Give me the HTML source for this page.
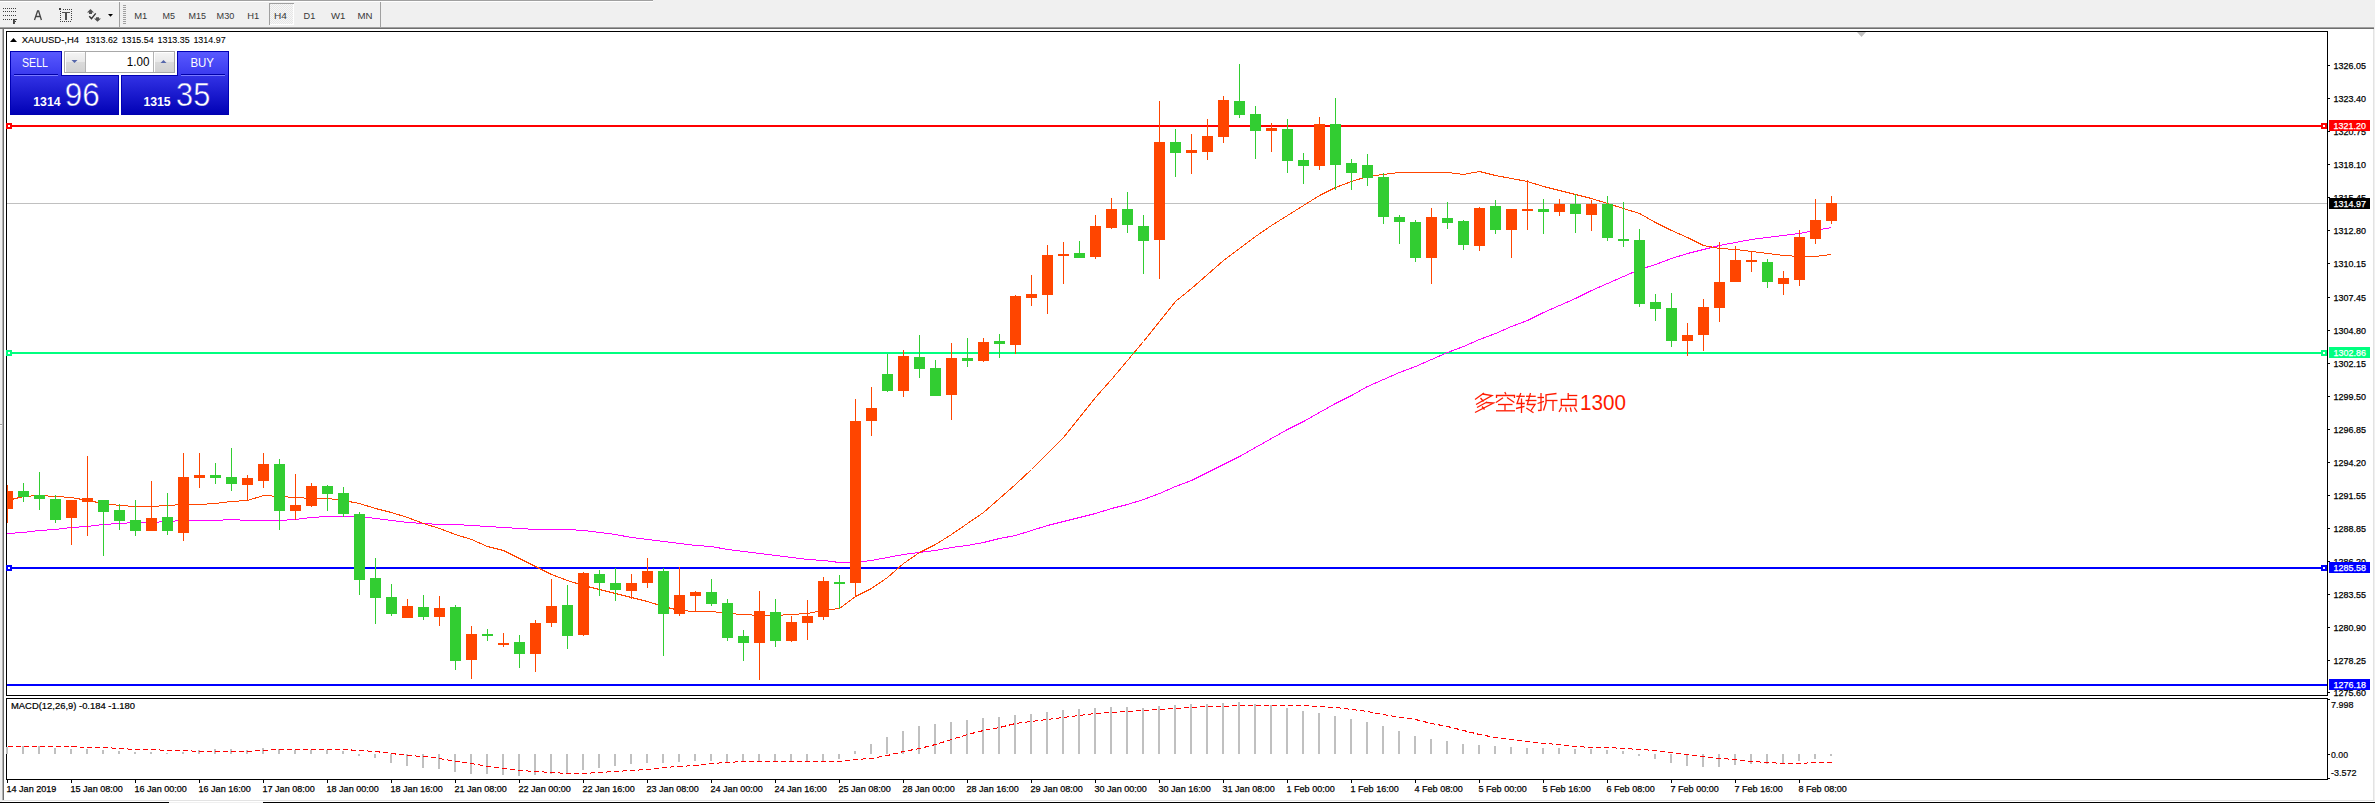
<!DOCTYPE html>
<html><head><meta charset="utf-8"><title>XAUUSD H4</title>
<style>
html,body{margin:0;padding:0;width:2375px;height:803px;overflow:hidden;background:#f0f0f0;}
body{position:relative;font-family:"Liberation Sans",sans-serif;}
text{font-family:"Liberation Sans",sans-serif;}
</style></head><body>
<svg width="2375" height="803" viewBox="0 0 2375 803" style="position:absolute;left:0;top:0;display:block" font-family="Liberation Sans, sans-serif">
<defs>
<linearGradient id="gSellTop" x1="0" y1="0" x2="0" y2="1"><stop offset="0" stop-color="#5a5aff"/><stop offset="1" stop-color="#3a3aee"/></linearGradient>
<linearGradient id="gBig" x1="0" y1="0" x2="0" y2="1"><stop offset="0" stop-color="#3333e6"/><stop offset="1" stop-color="#0000b4"/></linearGradient>
<linearGradient id="gBtn" x1="0" y1="0" x2="0" y2="1"><stop offset="0" stop-color="#f4f4f4"/><stop offset="0.45" stop-color="#e9e9e9"/><stop offset="0.5" stop-color="#dadada"/><stop offset="1" stop-color="#d2d2d2"/></linearGradient>
<pattern id="chk" width="2" height="2" patternUnits="userSpaceOnUse"><rect width="2" height="2" fill="#f7f7f7"/><rect width="1" height="1" fill="#e6e6e6"/><rect x="1" y="1" width="1" height="1" fill="#e6e6e6"/></pattern>
<linearGradient id="gBigU" gradientUnits="userSpaceOnUse" x1="0" y1="75" x2="0" y2="115"><stop offset="0" stop-color="#3333e6"/><stop offset="1" stop-color="#0000b4"/></linearGradient>
</defs>
<g shape-rendering="crispEdges">
<rect x="0" y="0" width="2375" height="803" fill="#f0f0f0"/>
<rect x="0" y="0" width="653" height="1" fill="#a0a0a0"/>
<rect x="0" y="1" width="653" height="1" fill="#ffffff"/>
<rect x="0" y="27" width="2374" height="1" fill="#a0a0a0"/>
<rect x="0" y="28" width="2374" height="1" fill="#6e6e6e"/>
<rect x="4" y="29" width="2369" height="771" fill="#ffffff"/>
<rect x="2" y="29" width="1" height="771" fill="#b4b4b4"/>
<rect x="0" y="424" width="2" height="1" fill="#a0a0a0"/>
<rect x="0" y="425" width="2" height="1" fill="#ffffff"/>
<rect x="3" y="29" width="1" height="771" fill="#6e6e6e"/>
<rect x="2373" y="29" width="1" height="772" fill="#e3e3e3"/>
<rect x="2" y="800" width="2372" height="1" fill="#e3e3e3"/>
<rect x="2" y="801" width="2372" height="1" fill="#ffffff"/>
<rect x="0" y="802" width="169" height="1" fill="#000000"/>
<rect x="263" y="802" width="2112" height="1" fill="#000000"/>
<rect x="6" y="31" width="2322" height="1" fill="#000"/>
<rect x="6" y="31" width="1" height="665" fill="#000"/>
<rect x="2327" y="31" width="1" height="665" fill="#000"/>
<rect x="6" y="695" width="2322" height="1" fill="#000"/>
<rect x="6" y="698" width="2322" height="1" fill="#000"/>
<rect x="6" y="698" width="1" height="82" fill="#000"/>
<rect x="2327" y="698" width="1" height="82" fill="#000"/>
<rect x="6" y="779" width="2322" height="1" fill="#000"/>
<polygon points="1857,32 1866,32 1861.5,37" fill="#c0c0c0" shape-rendering="auto"/>
</g>
<g shape-rendering="crispEdges">
<rect x="7" y="203" width="2320" height="1" fill="#c0c0c0"/>
<rect x="7" y="125" width="2320" height="2" fill="#ff0000"/>
<rect x="6" y="123" width="6" height="6" fill="#ff0000"/>
<rect x="8" y="125" width="2" height="2" fill="#fff"/>
<rect x="2321" y="123" width="6" height="6" fill="#ff0000"/>
<rect x="2323" y="125" width="2" height="2" fill="#fff"/>
<rect x="7" y="352" width="2320" height="2" fill="#00ff7f"/>
<rect x="6" y="350" width="6" height="6" fill="#00ff7f"/>
<rect x="8" y="352" width="2" height="2" fill="#fff"/>
<rect x="2321" y="350" width="6" height="6" fill="#00ff7f"/>
<rect x="2323" y="352" width="2" height="2" fill="#fff"/>
<rect x="7" y="567" width="2320" height="2" fill="#0000ff"/>
<rect x="6" y="565" width="6" height="6" fill="#0000ff"/>
<rect x="8" y="567" width="2" height="2" fill="#fff"/>
<rect x="2321" y="565" width="6" height="6" fill="#0000ff"/>
<rect x="2323" y="567" width="2" height="2" fill="#fff"/>
<rect x="7" y="684" width="2320" height="2" fill="#0000ff"/>
</g>
<polyline points="7.5,533.5 23.5,532.5 39.5,530.5 55.5,529.5 71.5,527.5 87.5,526.5 103.5,524.5 119.5,523.5 135.5,522.5 151.5,522.5 167.5,521.5 183.5,520.5 199.5,520.5 215.5,520.5 231.5,519.5 247.5,520.5 263.5,520.5 279.5,520.5 295.5,519.5 311.5,517.5 327.5,516.5 343.5,516.5 359.5,516.5 375.5,518.5 391.5,520.5 407.5,522.5 423.5,523.5 439.5,524.5 455.5,524.5 471.5,525.5 487.5,526.5 503.5,527.5 519.5,528.5 535.5,529.5 551.5,529.5 567.5,529.5 583.5,530.5 599.5,532.5 615.5,534.5 631.5,537.5 647.5,539.5 663.5,541.5 679.5,543.5 695.5,545.5 711.5,546.5 727.5,549.5 743.5,551.5 759.5,553.5 775.5,555.5 791.5,557.5 807.5,559.5 823.5,560.5 839.5,562.5 855.5,562.5 871.5,560.5 887.5,557.5 903.5,554.5 919.5,552.5 935.5,550.5 951.5,547.5 967.5,545.5 983.5,542.5 999.5,538.5 1015.5,535.5 1031.5,530.5 1047.5,525.5 1063.5,521.5 1079.5,517.5 1095.5,513.5 1111.5,508.5 1127.5,504.5 1143.5,499.5 1159.5,493.5 1175.5,486.5 1191.5,480.5 1207.5,472.5 1223.5,464.5 1239.5,456.5 1255.5,447.5 1271.5,438.5 1287.5,429.5 1303.5,421.5 1319.5,412.5 1335.5,403.5 1351.5,395.5 1367.5,386.5 1383.5,379.5 1399.5,372.5 1415.5,366.5 1431.5,359.5 1447.5,352.5 1463.5,346.5 1479.5,339.5 1495.5,333.5 1511.5,326.5 1527.5,320.5 1543.5,312.5 1559.5,305.5 1575.5,298.5 1591.5,290.5 1607.5,283.5 1623.5,276.5 1639.5,269.5 1655.5,264.5 1671.5,258.5 1687.5,253.5 1703.5,249.5 1719.5,245.5 1735.5,242.5 1751.5,239.5 1767.5,237.5 1783.5,235.5 1799.5,233.5 1815.5,230.5 1831.5,227.5" fill="none" stroke="#ff00ff" stroke-width="1" shape-rendering="crispEdges"/>
<polyline points="7.5,500.5 23.5,496.5 39.5,495.5 55.5,496.5 71.5,497.5 87.5,500.5 103.5,503.5 119.5,505.5 135.5,506.5 151.5,506.5 167.5,505.5 183.5,504.5 199.5,504.5 215.5,503.5 231.5,501.5 247.5,500.5 263.5,495.5 279.5,496.5 295.5,497.5 311.5,498.5 327.5,498.5 343.5,500.5 359.5,503.5 375.5,508.5 391.5,512.5 407.5,517.5 423.5,523.5 439.5,528.5 455.5,534.5 471.5,539.5 487.5,546.5 503.5,550.5 519.5,558.5 535.5,566.5 551.5,574.5 567.5,580.5 583.5,585.5 599.5,589.5 615.5,593.5 631.5,597.5 647.5,601.5 663.5,606.5 679.5,610.5 695.5,611.5 711.5,611.5 727.5,613.5 743.5,614.5 759.5,615.5 775.5,615.5 791.5,614.5 807.5,613.5 823.5,610.5 839.5,608.5 855.5,596.5 871.5,588.5 887.5,577.5 903.5,563.5 919.5,552.5 935.5,544.5 951.5,534.5 967.5,523.5 983.5,512.5 999.5,498.5 1015.5,484.5 1031.5,469.5 1047.5,453.5 1063.5,437.5 1079.5,417.5 1095.5,397.5 1111.5,379.5 1127.5,360.5 1143.5,341.5 1159.5,321.5 1175.5,301.5 1191.5,288.5 1207.5,274.5 1223.5,260.5 1239.5,248.5 1255.5,236.5 1271.5,225.5 1287.5,215.5 1303.5,205.5 1319.5,195.5 1335.5,187.5 1351.5,181.5 1367.5,176.5 1383.5,174.5 1399.5,172.5 1415.5,172.5 1431.5,172.5 1447.5,172.5 1463.5,174.5 1479.5,171.5 1495.5,175.5 1511.5,178.5 1527.5,181.5 1543.5,186.5 1559.5,190.5 1575.5,194.5 1591.5,198.5 1607.5,203.5 1623.5,208.5 1639.5,213.5 1655.5,222.5 1671.5,230.5 1687.5,237.5 1703.5,245.5 1719.5,248.5 1735.5,249.5 1751.5,251.5 1767.5,253.5 1783.5,255.5 1799.5,256.5 1815.5,256.5 1831.5,254.5" fill="none" stroke="#ff4500" stroke-width="1" shape-rendering="crispEdges"/>
<g shape-rendering="crispEdges">
<rect x="7" y="485" width="1" height="38" fill="#ff4500"/>
<rect x="7" y="491" width="6" height="18" fill="#ff4500"/>
<rect x="23" y="483" width="1" height="19" fill="#32cd32"/>
<rect x="18" y="491" width="11" height="6" fill="#32cd32"/>
<rect x="39" y="472" width="1" height="38" fill="#32cd32"/>
<rect x="34" y="495" width="11" height="4" fill="#32cd32"/>
<rect x="55" y="495" width="1" height="28" fill="#32cd32"/>
<rect x="50" y="499" width="11" height="21" fill="#32cd32"/>
<rect x="71" y="500" width="1" height="45" fill="#ff4500"/>
<rect x="66" y="500" width="11" height="18" fill="#ff4500"/>
<rect x="87" y="456" width="1" height="80" fill="#ff4500"/>
<rect x="82" y="498" width="11" height="4" fill="#ff4500"/>
<rect x="103" y="500" width="1" height="56" fill="#32cd32"/>
<rect x="98" y="500" width="11" height="12" fill="#32cd32"/>
<rect x="119" y="504" width="1" height="26" fill="#32cd32"/>
<rect x="114" y="510" width="11" height="11" fill="#32cd32"/>
<rect x="135" y="500" width="1" height="36" fill="#32cd32"/>
<rect x="130" y="520" width="11" height="11" fill="#32cd32"/>
<rect x="151" y="481" width="1" height="50" fill="#ff4500"/>
<rect x="146" y="518" width="11" height="13" fill="#ff4500"/>
<rect x="167" y="493" width="1" height="42" fill="#32cd32"/>
<rect x="162" y="517" width="11" height="14" fill="#32cd32"/>
<rect x="183" y="453" width="1" height="88" fill="#ff4500"/>
<rect x="178" y="477" width="11" height="56" fill="#ff4500"/>
<rect x="199" y="453" width="1" height="35" fill="#ff4500"/>
<rect x="194" y="475" width="11" height="3" fill="#ff4500"/>
<rect x="215" y="463" width="1" height="21" fill="#32cd32"/>
<rect x="210" y="475" width="11" height="3" fill="#32cd32"/>
<rect x="231" y="448" width="1" height="43" fill="#32cd32"/>
<rect x="226" y="477" width="11" height="7" fill="#32cd32"/>
<rect x="247" y="475" width="1" height="25" fill="#ff4500"/>
<rect x="242" y="478" width="11" height="7" fill="#ff4500"/>
<rect x="263" y="453" width="1" height="35" fill="#ff4500"/>
<rect x="258" y="464" width="11" height="17" fill="#ff4500"/>
<rect x="279" y="459" width="1" height="71" fill="#32cd32"/>
<rect x="274" y="464" width="11" height="47" fill="#32cd32"/>
<rect x="295" y="474" width="1" height="46" fill="#ff4500"/>
<rect x="290" y="505" width="11" height="6" fill="#ff4500"/>
<rect x="311" y="483" width="1" height="24" fill="#ff4500"/>
<rect x="306" y="486" width="11" height="20" fill="#ff4500"/>
<rect x="327" y="485" width="1" height="26" fill="#32cd32"/>
<rect x="322" y="486" width="11" height="8" fill="#32cd32"/>
<rect x="343" y="487" width="1" height="30" fill="#32cd32"/>
<rect x="338" y="493" width="11" height="21" fill="#32cd32"/>
<rect x="359" y="512" width="1" height="83" fill="#32cd32"/>
<rect x="354" y="514" width="11" height="66" fill="#32cd32"/>
<rect x="375" y="558" width="1" height="66" fill="#32cd32"/>
<rect x="370" y="578" width="11" height="20" fill="#32cd32"/>
<rect x="391" y="584" width="1" height="32" fill="#32cd32"/>
<rect x="386" y="597" width="11" height="17" fill="#32cd32"/>
<rect x="407" y="599" width="1" height="19" fill="#ff4500"/>
<rect x="402" y="606" width="11" height="12" fill="#ff4500"/>
<rect x="423" y="595" width="1" height="25" fill="#32cd32"/>
<rect x="418" y="607" width="11" height="10" fill="#32cd32"/>
<rect x="439" y="596" width="1" height="30" fill="#ff4500"/>
<rect x="434" y="608" width="11" height="9" fill="#ff4500"/>
<rect x="455" y="605" width="1" height="65" fill="#32cd32"/>
<rect x="450" y="607" width="11" height="54" fill="#32cd32"/>
<rect x="471" y="626" width="1" height="53" fill="#ff4500"/>
<rect x="466" y="634" width="11" height="26" fill="#ff4500"/>
<rect x="487" y="629" width="1" height="12" fill="#32cd32"/>
<rect x="482" y="634" width="11" height="2" fill="#32cd32"/>
<rect x="503" y="633" width="1" height="14" fill="#ff4500"/>
<rect x="498" y="643" width="11" height="2" fill="#ff4500"/>
<rect x="519" y="635" width="1" height="33" fill="#32cd32"/>
<rect x="514" y="642" width="11" height="12" fill="#32cd32"/>
<rect x="535" y="620" width="1" height="52" fill="#ff4500"/>
<rect x="530" y="623" width="11" height="31" fill="#ff4500"/>
<rect x="551" y="579" width="1" height="48" fill="#ff4500"/>
<rect x="546" y="606" width="11" height="17" fill="#ff4500"/>
<rect x="567" y="585" width="1" height="64" fill="#32cd32"/>
<rect x="562" y="605" width="11" height="31" fill="#32cd32"/>
<rect x="583" y="572" width="1" height="64" fill="#ff4500"/>
<rect x="578" y="573" width="11" height="62" fill="#ff4500"/>
<rect x="599" y="570" width="1" height="26" fill="#32cd32"/>
<rect x="594" y="574" width="11" height="9" fill="#32cd32"/>
<rect x="615" y="568" width="1" height="33" fill="#32cd32"/>
<rect x="610" y="583" width="11" height="7" fill="#32cd32"/>
<rect x="631" y="574" width="1" height="25" fill="#ff4500"/>
<rect x="626" y="583" width="11" height="8" fill="#ff4500"/>
<rect x="647" y="558" width="1" height="30" fill="#ff4500"/>
<rect x="642" y="571" width="11" height="12" fill="#ff4500"/>
<rect x="663" y="568" width="1" height="88" fill="#32cd32"/>
<rect x="658" y="571" width="11" height="43" fill="#32cd32"/>
<rect x="679" y="567" width="1" height="49" fill="#ff4500"/>
<rect x="674" y="595" width="11" height="19" fill="#ff4500"/>
<rect x="695" y="591" width="1" height="20" fill="#ff4500"/>
<rect x="690" y="592" width="11" height="4" fill="#ff4500"/>
<rect x="711" y="579" width="1" height="27" fill="#32cd32"/>
<rect x="706" y="592" width="11" height="12" fill="#32cd32"/>
<rect x="727" y="599" width="1" height="42" fill="#32cd32"/>
<rect x="722" y="603" width="11" height="35" fill="#32cd32"/>
<rect x="743" y="630" width="1" height="31" fill="#32cd32"/>
<rect x="738" y="636" width="11" height="7" fill="#32cd32"/>
<rect x="759" y="591" width="1" height="89" fill="#ff4500"/>
<rect x="754" y="611" width="11" height="32" fill="#ff4500"/>
<rect x="775" y="599" width="1" height="48" fill="#32cd32"/>
<rect x="770" y="612" width="11" height="29" fill="#32cd32"/>
<rect x="791" y="616" width="1" height="26" fill="#ff4500"/>
<rect x="786" y="622" width="11" height="19" fill="#ff4500"/>
<rect x="807" y="600" width="1" height="40" fill="#ff4500"/>
<rect x="802" y="616" width="11" height="7" fill="#ff4500"/>
<rect x="823" y="577" width="1" height="43" fill="#ff4500"/>
<rect x="818" y="581" width="11" height="36" fill="#ff4500"/>
<rect x="839" y="575" width="1" height="34" fill="#32cd32"/>
<rect x="834" y="582" width="11" height="2" fill="#32cd32"/>
<rect x="855" y="399" width="1" height="197" fill="#ff4500"/>
<rect x="850" y="421" width="11" height="162" fill="#ff4500"/>
<rect x="871" y="387" width="1" height="49" fill="#ff4500"/>
<rect x="866" y="408" width="11" height="13" fill="#ff4500"/>
<rect x="887" y="354" width="1" height="38" fill="#32cd32"/>
<rect x="882" y="374" width="11" height="17" fill="#32cd32"/>
<rect x="903" y="350" width="1" height="47" fill="#ff4500"/>
<rect x="898" y="356" width="11" height="35" fill="#ff4500"/>
<rect x="919" y="335" width="1" height="43" fill="#32cd32"/>
<rect x="914" y="357" width="11" height="12" fill="#32cd32"/>
<rect x="935" y="360" width="1" height="36" fill="#32cd32"/>
<rect x="930" y="368" width="11" height="28" fill="#32cd32"/>
<rect x="951" y="343" width="1" height="77" fill="#ff4500"/>
<rect x="946" y="358" width="11" height="37" fill="#ff4500"/>
<rect x="967" y="338" width="1" height="29" fill="#32cd32"/>
<rect x="962" y="358" width="11" height="3" fill="#32cd32"/>
<rect x="983" y="338" width="1" height="24" fill="#ff4500"/>
<rect x="978" y="342" width="11" height="19" fill="#ff4500"/>
<rect x="999" y="334" width="1" height="24" fill="#32cd32"/>
<rect x="994" y="341" width="11" height="3" fill="#32cd32"/>
<rect x="1015" y="295" width="1" height="59" fill="#ff4500"/>
<rect x="1010" y="296" width="11" height="49" fill="#ff4500"/>
<rect x="1031" y="275" width="1" height="31" fill="#ff4500"/>
<rect x="1026" y="294" width="11" height="4" fill="#ff4500"/>
<rect x="1047" y="245" width="1" height="69" fill="#ff4500"/>
<rect x="1042" y="255" width="11" height="40" fill="#ff4500"/>
<rect x="1063" y="242" width="1" height="42" fill="#ff4500"/>
<rect x="1058" y="254" width="11" height="2" fill="#ff4500"/>
<rect x="1079" y="241" width="1" height="17" fill="#32cd32"/>
<rect x="1074" y="253" width="11" height="5" fill="#32cd32"/>
<rect x="1095" y="215" width="1" height="44" fill="#ff4500"/>
<rect x="1090" y="226" width="11" height="31" fill="#ff4500"/>
<rect x="1111" y="198" width="1" height="31" fill="#ff4500"/>
<rect x="1106" y="209" width="11" height="19" fill="#ff4500"/>
<rect x="1127" y="192" width="1" height="41" fill="#32cd32"/>
<rect x="1122" y="209" width="11" height="16" fill="#32cd32"/>
<rect x="1143" y="215" width="1" height="59" fill="#32cd32"/>
<rect x="1138" y="226" width="11" height="15" fill="#32cd32"/>
<rect x="1159" y="101" width="1" height="178" fill="#ff4500"/>
<rect x="1154" y="142" width="11" height="98" fill="#ff4500"/>
<rect x="1175" y="129" width="1" height="48" fill="#32cd32"/>
<rect x="1170" y="142" width="11" height="11" fill="#32cd32"/>
<rect x="1191" y="134" width="1" height="40" fill="#ff4500"/>
<rect x="1186" y="150" width="11" height="3" fill="#ff4500"/>
<rect x="1207" y="119" width="1" height="41" fill="#ff4500"/>
<rect x="1202" y="136" width="11" height="16" fill="#ff4500"/>
<rect x="1223" y="96" width="1" height="47" fill="#ff4500"/>
<rect x="1218" y="100" width="11" height="37" fill="#ff4500"/>
<rect x="1239" y="64" width="1" height="54" fill="#32cd32"/>
<rect x="1234" y="101" width="11" height="14" fill="#32cd32"/>
<rect x="1255" y="106" width="1" height="53" fill="#32cd32"/>
<rect x="1250" y="114" width="11" height="17" fill="#32cd32"/>
<rect x="1271" y="123" width="1" height="29" fill="#ff4500"/>
<rect x="1266" y="128" width="11" height="3" fill="#ff4500"/>
<rect x="1287" y="119" width="1" height="54" fill="#32cd32"/>
<rect x="1282" y="129" width="11" height="32" fill="#32cd32"/>
<rect x="1303" y="153" width="1" height="31" fill="#32cd32"/>
<rect x="1298" y="160" width="11" height="6" fill="#32cd32"/>
<rect x="1319" y="117" width="1" height="53" fill="#ff4500"/>
<rect x="1314" y="124" width="11" height="42" fill="#ff4500"/>
<rect x="1335" y="98" width="1" height="92" fill="#32cd32"/>
<rect x="1330" y="124" width="11" height="41" fill="#32cd32"/>
<rect x="1351" y="159" width="1" height="31" fill="#32cd32"/>
<rect x="1346" y="163" width="11" height="10" fill="#32cd32"/>
<rect x="1367" y="154" width="1" height="32" fill="#32cd32"/>
<rect x="1362" y="165" width="11" height="13" fill="#32cd32"/>
<rect x="1383" y="173" width="1" height="51" fill="#32cd32"/>
<rect x="1378" y="177" width="11" height="40" fill="#32cd32"/>
<rect x="1399" y="215" width="1" height="29" fill="#32cd32"/>
<rect x="1394" y="217" width="11" height="5" fill="#32cd32"/>
<rect x="1415" y="220" width="1" height="42" fill="#32cd32"/>
<rect x="1410" y="222" width="11" height="36" fill="#32cd32"/>
<rect x="1431" y="208" width="1" height="76" fill="#ff4500"/>
<rect x="1426" y="217" width="11" height="41" fill="#ff4500"/>
<rect x="1447" y="202" width="1" height="27" fill="#32cd32"/>
<rect x="1442" y="218" width="11" height="5" fill="#32cd32"/>
<rect x="1463" y="220" width="1" height="30" fill="#32cd32"/>
<rect x="1458" y="221" width="11" height="24" fill="#32cd32"/>
<rect x="1479" y="207" width="1" height="44" fill="#ff4500"/>
<rect x="1474" y="208" width="11" height="38" fill="#ff4500"/>
<rect x="1495" y="200" width="1" height="34" fill="#32cd32"/>
<rect x="1490" y="206" width="11" height="24" fill="#32cd32"/>
<rect x="1511" y="209" width="1" height="49" fill="#ff4500"/>
<rect x="1506" y="209" width="11" height="21" fill="#ff4500"/>
<rect x="1527" y="180" width="1" height="50" fill="#ff4500"/>
<rect x="1522" y="209" width="11" height="2" fill="#ff4500"/>
<rect x="1543" y="199" width="1" height="35" fill="#32cd32"/>
<rect x="1538" y="209" width="11" height="3" fill="#32cd32"/>
<rect x="1559" y="199" width="1" height="17" fill="#ff4500"/>
<rect x="1554" y="204" width="11" height="8" fill="#ff4500"/>
<rect x="1575" y="194" width="1" height="39" fill="#32cd32"/>
<rect x="1570" y="204" width="11" height="10" fill="#32cd32"/>
<rect x="1591" y="200" width="1" height="31" fill="#ff4500"/>
<rect x="1586" y="204" width="11" height="11" fill="#ff4500"/>
<rect x="1607" y="196" width="1" height="45" fill="#32cd32"/>
<rect x="1602" y="204" width="11" height="34" fill="#32cd32"/>
<rect x="1623" y="202" width="1" height="45" fill="#32cd32"/>
<rect x="1618" y="239" width="11" height="2" fill="#32cd32"/>
<rect x="1639" y="229" width="1" height="78" fill="#32cd32"/>
<rect x="1634" y="240" width="11" height="64" fill="#32cd32"/>
<rect x="1655" y="294" width="1" height="27" fill="#32cd32"/>
<rect x="1650" y="302" width="11" height="7" fill="#32cd32"/>
<rect x="1671" y="293" width="1" height="54" fill="#32cd32"/>
<rect x="1666" y="308" width="11" height="33" fill="#32cd32"/>
<rect x="1687" y="323" width="1" height="33" fill="#ff4500"/>
<rect x="1682" y="335" width="11" height="6" fill="#ff4500"/>
<rect x="1703" y="299" width="1" height="52" fill="#ff4500"/>
<rect x="1698" y="307" width="11" height="28" fill="#ff4500"/>
<rect x="1719" y="242" width="1" height="80" fill="#ff4500"/>
<rect x="1714" y="282" width="11" height="26" fill="#ff4500"/>
<rect x="1735" y="246" width="1" height="36" fill="#ff4500"/>
<rect x="1730" y="260" width="11" height="22" fill="#ff4500"/>
<rect x="1751" y="251" width="1" height="21" fill="#ff4500"/>
<rect x="1746" y="260" width="11" height="2" fill="#ff4500"/>
<rect x="1767" y="259" width="1" height="29" fill="#32cd32"/>
<rect x="1762" y="262" width="11" height="20" fill="#32cd32"/>
<rect x="1783" y="271" width="1" height="24" fill="#ff4500"/>
<rect x="1778" y="278" width="11" height="6" fill="#ff4500"/>
<rect x="1799" y="230" width="1" height="56" fill="#ff4500"/>
<rect x="1794" y="237" width="11" height="43" fill="#ff4500"/>
<rect x="1815" y="199" width="1" height="45" fill="#ff4500"/>
<rect x="1810" y="220" width="11" height="19" fill="#ff4500"/>
<rect x="1831" y="196" width="1" height="28" fill="#ff4500"/>
<rect x="1826" y="203" width="11" height="18" fill="#ff4500"/>
</g>
<g shape-rendering="crispEdges">
<rect x="6" y="747" width="2" height="7" fill="#c0c0c0"/>
<rect x="22" y="746" width="2" height="8" fill="#c0c0c0"/>
<rect x="38" y="746" width="2" height="8" fill="#c0c0c0"/>
<rect x="54" y="748" width="2" height="6" fill="#c0c0c0"/>
<rect x="70" y="749" width="2" height="5" fill="#c0c0c0"/>
<rect x="86" y="749" width="2" height="5" fill="#c0c0c0"/>
<rect x="102" y="750" width="2" height="4" fill="#c0c0c0"/>
<rect x="118" y="751" width="2" height="3" fill="#c0c0c0"/>
<rect x="134" y="752" width="2" height="2" fill="#c0c0c0"/>
<rect x="150" y="752" width="2" height="2" fill="#c0c0c0"/>
<rect x="166" y="753" width="2" height="1" fill="#c0c0c0"/>
<rect x="182" y="752" width="2" height="2" fill="#c0c0c0"/>
<rect x="198" y="750" width="2" height="4" fill="#c0c0c0"/>
<rect x="214" y="749" width="2" height="5" fill="#c0c0c0"/>
<rect x="230" y="749" width="2" height="5" fill="#c0c0c0"/>
<rect x="246" y="750" width="2" height="4" fill="#c0c0c0"/>
<rect x="262" y="748" width="2" height="6" fill="#c0c0c0"/>
<rect x="278" y="749" width="2" height="5" fill="#c0c0c0"/>
<rect x="294" y="750" width="2" height="4" fill="#c0c0c0"/>
<rect x="310" y="750" width="2" height="4" fill="#c0c0c0"/>
<rect x="326" y="750" width="2" height="4" fill="#c0c0c0"/>
<rect x="342" y="751" width="2" height="3" fill="#c0c0c0"/>
<rect x="358" y="754" width="2" height="2" fill="#c0c0c0"/>
<rect x="374" y="754" width="2" height="4" fill="#c0c0c0"/>
<rect x="390" y="754" width="2" height="9" fill="#c0c0c0"/>
<rect x="406" y="754" width="2" height="12" fill="#c0c0c0"/>
<rect x="422" y="754" width="2" height="14" fill="#c0c0c0"/>
<rect x="438" y="754" width="2" height="15" fill="#c0c0c0"/>
<rect x="454" y="754" width="2" height="18" fill="#c0c0c0"/>
<rect x="470" y="754" width="2" height="20" fill="#c0c0c0"/>
<rect x="486" y="754" width="2" height="20" fill="#c0c0c0"/>
<rect x="502" y="754" width="2" height="21" fill="#c0c0c0"/>
<rect x="518" y="754" width="2" height="22" fill="#c0c0c0"/>
<rect x="534" y="754" width="2" height="21" fill="#c0c0c0"/>
<rect x="550" y="754" width="2" height="20" fill="#c0c0c0"/>
<rect x="566" y="754" width="2" height="19" fill="#c0c0c0"/>
<rect x="582" y="754" width="2" height="16" fill="#c0c0c0"/>
<rect x="598" y="754" width="2" height="14" fill="#c0c0c0"/>
<rect x="614" y="754" width="2" height="12" fill="#c0c0c0"/>
<rect x="630" y="754" width="2" height="10" fill="#c0c0c0"/>
<rect x="646" y="754" width="2" height="9" fill="#c0c0c0"/>
<rect x="662" y="754" width="2" height="9" fill="#c0c0c0"/>
<rect x="678" y="754" width="2" height="8" fill="#c0c0c0"/>
<rect x="694" y="754" width="2" height="7" fill="#c0c0c0"/>
<rect x="710" y="754" width="2" height="7" fill="#c0c0c0"/>
<rect x="726" y="754" width="2" height="8" fill="#c0c0c0"/>
<rect x="742" y="754" width="2" height="8" fill="#c0c0c0"/>
<rect x="758" y="754" width="2" height="8" fill="#c0c0c0"/>
<rect x="774" y="754" width="2" height="8" fill="#c0c0c0"/>
<rect x="790" y="754" width="2" height="8" fill="#c0c0c0"/>
<rect x="806" y="754" width="2" height="8" fill="#c0c0c0"/>
<rect x="822" y="754" width="2" height="7" fill="#c0c0c0"/>
<rect x="838" y="754" width="2" height="5" fill="#c0c0c0"/>
<rect x="854" y="751" width="2" height="3" fill="#c0c0c0"/>
<rect x="870" y="744" width="2" height="10" fill="#c0c0c0"/>
<rect x="886" y="737" width="2" height="17" fill="#c0c0c0"/>
<rect x="902" y="731" width="2" height="23" fill="#c0c0c0"/>
<rect x="918" y="726" width="2" height="28" fill="#c0c0c0"/>
<rect x="934" y="724" width="2" height="30" fill="#c0c0c0"/>
<rect x="950" y="722" width="2" height="32" fill="#c0c0c0"/>
<rect x="966" y="720" width="2" height="34" fill="#c0c0c0"/>
<rect x="982" y="718" width="2" height="36" fill="#c0c0c0"/>
<rect x="998" y="717" width="2" height="37" fill="#c0c0c0"/>
<rect x="1014" y="715" width="2" height="39" fill="#c0c0c0"/>
<rect x="1030" y="714" width="2" height="40" fill="#c0c0c0"/>
<rect x="1046" y="712" width="2" height="42" fill="#c0c0c0"/>
<rect x="1062" y="710" width="2" height="44" fill="#c0c0c0"/>
<rect x="1078" y="709" width="2" height="45" fill="#c0c0c0"/>
<rect x="1094" y="708" width="2" height="46" fill="#c0c0c0"/>
<rect x="1110" y="707" width="2" height="47" fill="#c0c0c0"/>
<rect x="1126" y="707" width="2" height="47" fill="#c0c0c0"/>
<rect x="1142" y="708" width="2" height="46" fill="#c0c0c0"/>
<rect x="1158" y="706" width="2" height="48" fill="#c0c0c0"/>
<rect x="1174" y="705" width="2" height="49" fill="#c0c0c0"/>
<rect x="1190" y="704" width="2" height="50" fill="#c0c0c0"/>
<rect x="1206" y="704" width="2" height="50" fill="#c0c0c0"/>
<rect x="1222" y="703" width="2" height="51" fill="#c0c0c0"/>
<rect x="1238" y="702" width="2" height="52" fill="#c0c0c0"/>
<rect x="1254" y="704" width="2" height="50" fill="#c0c0c0"/>
<rect x="1270" y="705" width="2" height="49" fill="#c0c0c0"/>
<rect x="1286" y="708" width="2" height="46" fill="#c0c0c0"/>
<rect x="1302" y="711" width="2" height="43" fill="#c0c0c0"/>
<rect x="1318" y="713" width="2" height="41" fill="#c0c0c0"/>
<rect x="1334" y="716" width="2" height="38" fill="#c0c0c0"/>
<rect x="1350" y="719" width="2" height="35" fill="#c0c0c0"/>
<rect x="1366" y="722" width="2" height="32" fill="#c0c0c0"/>
<rect x="1382" y="726" width="2" height="28" fill="#c0c0c0"/>
<rect x="1398" y="731" width="2" height="23" fill="#c0c0c0"/>
<rect x="1414" y="736" width="2" height="18" fill="#c0c0c0"/>
<rect x="1430" y="739" width="2" height="15" fill="#c0c0c0"/>
<rect x="1446" y="741" width="2" height="13" fill="#c0c0c0"/>
<rect x="1462" y="744" width="2" height="10" fill="#c0c0c0"/>
<rect x="1478" y="745" width="2" height="9" fill="#c0c0c0"/>
<rect x="1494" y="746" width="2" height="8" fill="#c0c0c0"/>
<rect x="1510" y="747" width="2" height="7" fill="#c0c0c0"/>
<rect x="1526" y="748" width="2" height="6" fill="#c0c0c0"/>
<rect x="1542" y="748" width="2" height="6" fill="#c0c0c0"/>
<rect x="1558" y="748" width="2" height="6" fill="#c0c0c0"/>
<rect x="1574" y="749" width="2" height="5" fill="#c0c0c0"/>
<rect x="1590" y="749" width="2" height="5" fill="#c0c0c0"/>
<rect x="1606" y="750" width="2" height="4" fill="#c0c0c0"/>
<rect x="1622" y="751" width="2" height="3" fill="#c0c0c0"/>
<rect x="1638" y="754" width="2" height="2" fill="#c0c0c0"/>
<rect x="1654" y="754" width="2" height="5" fill="#c0c0c0"/>
<rect x="1670" y="754" width="2" height="9" fill="#c0c0c0"/>
<rect x="1686" y="754" width="2" height="12" fill="#c0c0c0"/>
<rect x="1702" y="754" width="2" height="13" fill="#c0c0c0"/>
<rect x="1718" y="754" width="2" height="13" fill="#c0c0c0"/>
<rect x="1734" y="754" width="2" height="11" fill="#c0c0c0"/>
<rect x="1750" y="754" width="2" height="10" fill="#c0c0c0"/>
<rect x="1766" y="754" width="2" height="10" fill="#c0c0c0"/>
<rect x="1782" y="754" width="2" height="9" fill="#c0c0c0"/>
<rect x="1798" y="754" width="2" height="7" fill="#c0c0c0"/>
<rect x="1814" y="754" width="2" height="5" fill="#c0c0c0"/>
<rect x="1830" y="754" width="2" height="2" fill="#c0c0c0"/>
</g>
<polyline points="7.5,746.5 23.5,746.5 39.5,746.5 55.5,746.5 71.5,746.5 87.5,747.5 103.5,747.5 119.5,748.5 135.5,749.5 151.5,749.5 167.5,750.5 183.5,750.5 199.5,751.5 215.5,751.5 231.5,751.5 247.5,751.5 263.5,750.5 279.5,749.5 295.5,749.5 311.5,749.5 327.5,749.5 343.5,749.5 359.5,750.5 375.5,751.5 391.5,753.5 407.5,755.5 423.5,756.5 439.5,758.5 455.5,761.5 471.5,763.5 487.5,766.5 503.5,768.5 519.5,770.5 535.5,771.5 551.5,772.5 567.5,773.5 583.5,773.5 599.5,772.5 615.5,771.5 631.5,770.5 647.5,769.5 663.5,767.5 679.5,766.5 695.5,765.5 711.5,763.5 727.5,762.5 743.5,761.5 759.5,761.5 775.5,761.5 791.5,761.5 807.5,761.5 823.5,761.5 839.5,761.5 855.5,759.5 871.5,758.5 887.5,755.5 903.5,751.5 919.5,748.5 935.5,744.5 951.5,739.5 967.5,734.5 983.5,730.5 999.5,727.5 1015.5,723.5 1031.5,721.5 1047.5,719.5 1063.5,717.5 1079.5,715.5 1095.5,713.5 1111.5,712.5 1127.5,711.5 1143.5,710.5 1159.5,709.5 1175.5,708.5 1191.5,707.5 1207.5,706.5 1223.5,706.5 1239.5,705.5 1255.5,705.5 1271.5,705.5 1287.5,705.5 1303.5,705.5 1319.5,706.5 1335.5,707.5 1351.5,709.5 1367.5,711.5 1383.5,714.5 1399.5,717.5 1415.5,719.5 1431.5,723.5 1447.5,726.5 1463.5,730.5 1479.5,734.5 1495.5,737.5 1511.5,739.5 1527.5,741.5 1543.5,743.5 1559.5,744.5 1575.5,746.5 1591.5,747.5 1607.5,747.5 1623.5,748.5 1639.5,749.5 1655.5,750.5 1671.5,752.5 1687.5,754.5 1703.5,756.5 1719.5,758.5 1735.5,759.5 1751.5,761.5 1767.5,762.5 1783.5,763.5 1799.5,763.5 1815.5,762.5 1831.5,762.5" fill="none" stroke="#ff0000" stroke-width="1" stroke-dasharray="5,3" shape-rendering="crispEdges"/>
<g shape-rendering="crispEdges">
<rect x="2328" y="65" width="2" height="1" fill="#000"/>
<rect x="2328" y="98" width="2" height="1" fill="#000"/>
<rect x="2328" y="131" width="2" height="1" fill="#000"/>
<rect x="2328" y="164" width="2" height="1" fill="#000"/>
<rect x="2328" y="197" width="2" height="1" fill="#000"/>
<rect x="2328" y="230" width="2" height="1" fill="#000"/>
<rect x="2328" y="263" width="2" height="1" fill="#000"/>
<rect x="2328" y="297" width="2" height="1" fill="#000"/>
<rect x="2328" y="330" width="2" height="1" fill="#000"/>
<rect x="2328" y="363" width="2" height="1" fill="#000"/>
<rect x="2328" y="396" width="2" height="1" fill="#000"/>
<rect x="2328" y="429" width="2" height="1" fill="#000"/>
<rect x="2328" y="462" width="2" height="1" fill="#000"/>
<rect x="2328" y="495" width="2" height="1" fill="#000"/>
<rect x="2328" y="528" width="2" height="1" fill="#000"/>
<rect x="2328" y="561" width="2" height="1" fill="#000"/>
<rect x="2328" y="594" width="2" height="1" fill="#000"/>
<rect x="2328" y="627" width="2" height="1" fill="#000"/>
<rect x="2328" y="660" width="2" height="1" fill="#000"/>
<rect x="2328" y="692" width="2" height="1" fill="#000"/>
</g>
<text x="2333.6" y="68.5" font-size="9.5" fill="#000" stroke="#000" stroke-width="0.25" textLength="32.30" lengthAdjust="spacingAndGlyphs">1326.05</text>
<text x="2333.6" y="101.5" font-size="9.5" fill="#000" stroke="#000" stroke-width="0.25" textLength="32.30" lengthAdjust="spacingAndGlyphs">1323.40</text>
<text x="2333.6" y="134.5" font-size="9.5" fill="#000" stroke="#000" stroke-width="0.25" textLength="32.30" lengthAdjust="spacingAndGlyphs">1320.75</text>
<text x="2333.6" y="167.5" font-size="9.5" fill="#000" stroke="#000" stroke-width="0.25" textLength="32.30" lengthAdjust="spacingAndGlyphs">1318.10</text>
<text x="2333.6" y="200.5" font-size="9.5" fill="#000" stroke="#000" stroke-width="0.25" textLength="32.30" lengthAdjust="spacingAndGlyphs">1315.45</text>
<text x="2333.6" y="233.5" font-size="9.5" fill="#000" stroke="#000" stroke-width="0.25" textLength="32.30" lengthAdjust="spacingAndGlyphs">1312.80</text>
<text x="2333.6" y="266.5" font-size="9.5" fill="#000" stroke="#000" stroke-width="0.25" textLength="32.30" lengthAdjust="spacingAndGlyphs">1310.15</text>
<text x="2333.6" y="300.5" font-size="9.5" fill="#000" stroke="#000" stroke-width="0.25" textLength="32.30" lengthAdjust="spacingAndGlyphs">1307.45</text>
<text x="2333.6" y="333.5" font-size="9.5" fill="#000" stroke="#000" stroke-width="0.25" textLength="32.30" lengthAdjust="spacingAndGlyphs">1304.80</text>
<text x="2333.6" y="366.5" font-size="9.5" fill="#000" stroke="#000" stroke-width="0.25" textLength="32.30" lengthAdjust="spacingAndGlyphs">1302.15</text>
<text x="2333.6" y="399.5" font-size="9.5" fill="#000" stroke="#000" stroke-width="0.25" textLength="32.30" lengthAdjust="spacingAndGlyphs">1299.50</text>
<text x="2333.6" y="432.5" font-size="9.5" fill="#000" stroke="#000" stroke-width="0.25" textLength="32.30" lengthAdjust="spacingAndGlyphs">1296.85</text>
<text x="2333.6" y="465.5" font-size="9.5" fill="#000" stroke="#000" stroke-width="0.25" textLength="32.30" lengthAdjust="spacingAndGlyphs">1294.20</text>
<text x="2333.6" y="498.5" font-size="9.5" fill="#000" stroke="#000" stroke-width="0.25" textLength="32.30" lengthAdjust="spacingAndGlyphs">1291.55</text>
<text x="2333.6" y="531.5" font-size="9.5" fill="#000" stroke="#000" stroke-width="0.25" textLength="32.30" lengthAdjust="spacingAndGlyphs">1288.85</text>
<text x="2333.6" y="564.5" font-size="9.5" fill="#000" stroke="#000" stroke-width="0.25" textLength="32.30" lengthAdjust="spacingAndGlyphs">1286.20</text>
<text x="2333.6" y="597.5" font-size="9.5" fill="#000" stroke="#000" stroke-width="0.25" textLength="32.30" lengthAdjust="spacingAndGlyphs">1283.55</text>
<text x="2333.6" y="630.5" font-size="9.5" fill="#000" stroke="#000" stroke-width="0.25" textLength="32.30" lengthAdjust="spacingAndGlyphs">1280.90</text>
<text x="2333.6" y="663.5" font-size="9.5" fill="#000" stroke="#000" stroke-width="0.25" textLength="32.30" lengthAdjust="spacingAndGlyphs">1278.25</text>
<text x="2333.6" y="695.5" font-size="9.5" fill="#000" stroke="#000" stroke-width="0.25" textLength="32.30" lengthAdjust="spacingAndGlyphs">1275.60</text>
<rect x="2329" y="120" width="41" height="11" fill="#ff0000" shape-rendering="crispEdges"/>
<text x="2333.6" y="128.5" font-size="9.5" fill="#fff" stroke="#fff" stroke-width="0.25" textLength="32.30" lengthAdjust="spacingAndGlyphs">1321.20</text>
<rect x="2329" y="198" width="41" height="11" fill="#000000" shape-rendering="crispEdges"/>
<text x="2333.6" y="206.5" font-size="9.5" fill="#fff" stroke="#fff" stroke-width="0.25" textLength="32.30" lengthAdjust="spacingAndGlyphs">1314.97</text>
<rect x="2329" y="347" width="41" height="11" fill="#00ff7f" shape-rendering="crispEdges"/>
<text x="2333.6" y="355.5" font-size="9.5" fill="#fff" stroke="#fff" stroke-width="0.25" textLength="32.30" lengthAdjust="spacingAndGlyphs">1302.86</text>
<rect x="2329" y="562" width="41" height="11" fill="#0000ff" shape-rendering="crispEdges"/>
<text x="2333.6" y="570.5" font-size="9.5" fill="#fff" stroke="#fff" stroke-width="0.25" textLength="32.30" lengthAdjust="spacingAndGlyphs">1285.58</text>
<rect x="2329" y="679" width="41" height="11" fill="#0000ff" shape-rendering="crispEdges"/>
<text x="2333.6" y="687.5" font-size="9.5" fill="#fff" stroke="#fff" stroke-width="0.25" textLength="32.30" lengthAdjust="spacingAndGlyphs">1276.18</text>
<g shape-rendering="crispEdges">
<rect x="2328" y="699" width="2" height="1" fill="#000"/>
<rect x="2328" y="754" width="2" height="1" fill="#000"/>
<rect x="2328" y="778" width="2" height="1" fill="#000"/>
</g>
<text x="2331" y="707.5" font-size="9.5" fill="#000" stroke="#000" stroke-width="0.2" textLength="22.50" lengthAdjust="spacingAndGlyphs">7.998</text>
<text x="2331" y="758" font-size="9.5" fill="#000" stroke="#000" stroke-width="0.2" textLength="17.00" lengthAdjust="spacingAndGlyphs">0.00</text>
<text x="2331" y="776" font-size="9.5" fill="#000" stroke="#000" stroke-width="0.2" textLength="25.50" lengthAdjust="spacingAndGlyphs">-3.572</text>
<g shape-rendering="crispEdges">
<rect x="7" y="780" width="1" height="3" fill="#000"/>
<rect x="71" y="780" width="1" height="3" fill="#000"/>
<rect x="135" y="780" width="1" height="3" fill="#000"/>
<rect x="199" y="780" width="1" height="3" fill="#000"/>
<rect x="263" y="780" width="1" height="3" fill="#000"/>
<rect x="327" y="780" width="1" height="3" fill="#000"/>
<rect x="391" y="780" width="1" height="3" fill="#000"/>
<rect x="455" y="780" width="1" height="3" fill="#000"/>
<rect x="519" y="780" width="1" height="3" fill="#000"/>
<rect x="583" y="780" width="1" height="3" fill="#000"/>
<rect x="647" y="780" width="1" height="3" fill="#000"/>
<rect x="711" y="780" width="1" height="3" fill="#000"/>
<rect x="775" y="780" width="1" height="3" fill="#000"/>
<rect x="839" y="780" width="1" height="3" fill="#000"/>
<rect x="903" y="780" width="1" height="3" fill="#000"/>
<rect x="967" y="780" width="1" height="3" fill="#000"/>
<rect x="1031" y="780" width="1" height="3" fill="#000"/>
<rect x="1095" y="780" width="1" height="3" fill="#000"/>
<rect x="1159" y="780" width="1" height="3" fill="#000"/>
<rect x="1223" y="780" width="1" height="3" fill="#000"/>
<rect x="1287" y="780" width="1" height="3" fill="#000"/>
<rect x="1351" y="780" width="1" height="3" fill="#000"/>
<rect x="1415" y="780" width="1" height="3" fill="#000"/>
<rect x="1479" y="780" width="1" height="3" fill="#000"/>
<rect x="1543" y="780" width="1" height="3" fill="#000"/>
<rect x="1607" y="780" width="1" height="3" fill="#000"/>
<rect x="1671" y="780" width="1" height="3" fill="#000"/>
<rect x="1735" y="780" width="1" height="3" fill="#000"/>
<rect x="1799" y="780" width="1" height="3" fill="#000"/>
</g>
<text x="6.5" y="792" font-size="9.5" fill="#000" stroke="#000" stroke-width="0.25" textLength="49.81" lengthAdjust="spacingAndGlyphs">14 Jan 2019</text>
<text x="70.5" y="792" font-size="9.5" fill="#000" stroke="#000" stroke-width="0.25" textLength="52.33" lengthAdjust="spacingAndGlyphs">15 Jan 08:00</text>
<text x="134.5" y="792" font-size="9.5" fill="#000" stroke="#000" stroke-width="0.25" textLength="52.33" lengthAdjust="spacingAndGlyphs">16 Jan 00:00</text>
<text x="198.5" y="792" font-size="9.5" fill="#000" stroke="#000" stroke-width="0.25" textLength="52.33" lengthAdjust="spacingAndGlyphs">16 Jan 16:00</text>
<text x="262.5" y="792" font-size="9.5" fill="#000" stroke="#000" stroke-width="0.25" textLength="52.33" lengthAdjust="spacingAndGlyphs">17 Jan 08:00</text>
<text x="326.5" y="792" font-size="9.5" fill="#000" stroke="#000" stroke-width="0.25" textLength="52.33" lengthAdjust="spacingAndGlyphs">18 Jan 00:00</text>
<text x="390.5" y="792" font-size="9.5" fill="#000" stroke="#000" stroke-width="0.25" textLength="52.33" lengthAdjust="spacingAndGlyphs">18 Jan 16:00</text>
<text x="454.5" y="792" font-size="9.5" fill="#000" stroke="#000" stroke-width="0.25" textLength="52.33" lengthAdjust="spacingAndGlyphs">21 Jan 08:00</text>
<text x="518.5" y="792" font-size="9.5" fill="#000" stroke="#000" stroke-width="0.25" textLength="52.33" lengthAdjust="spacingAndGlyphs">22 Jan 00:00</text>
<text x="582.5" y="792" font-size="9.5" fill="#000" stroke="#000" stroke-width="0.25" textLength="52.33" lengthAdjust="spacingAndGlyphs">22 Jan 16:00</text>
<text x="646.5" y="792" font-size="9.5" fill="#000" stroke="#000" stroke-width="0.25" textLength="52.33" lengthAdjust="spacingAndGlyphs">23 Jan 08:00</text>
<text x="710.5" y="792" font-size="9.5" fill="#000" stroke="#000" stroke-width="0.25" textLength="52.33" lengthAdjust="spacingAndGlyphs">24 Jan 00:00</text>
<text x="774.5" y="792" font-size="9.5" fill="#000" stroke="#000" stroke-width="0.25" textLength="52.33" lengthAdjust="spacingAndGlyphs">24 Jan 16:00</text>
<text x="838.5" y="792" font-size="9.5" fill="#000" stroke="#000" stroke-width="0.25" textLength="52.33" lengthAdjust="spacingAndGlyphs">25 Jan 08:00</text>
<text x="902.5" y="792" font-size="9.5" fill="#000" stroke="#000" stroke-width="0.25" textLength="52.33" lengthAdjust="spacingAndGlyphs">28 Jan 00:00</text>
<text x="966.5" y="792" font-size="9.5" fill="#000" stroke="#000" stroke-width="0.25" textLength="52.33" lengthAdjust="spacingAndGlyphs">28 Jan 16:00</text>
<text x="1030.5" y="792" font-size="9.5" fill="#000" stroke="#000" stroke-width="0.25" textLength="52.33" lengthAdjust="spacingAndGlyphs">29 Jan 08:00</text>
<text x="1094.5" y="792" font-size="9.5" fill="#000" stroke="#000" stroke-width="0.25" textLength="52.33" lengthAdjust="spacingAndGlyphs">30 Jan 00:00</text>
<text x="1158.5" y="792" font-size="9.5" fill="#000" stroke="#000" stroke-width="0.25" textLength="52.33" lengthAdjust="spacingAndGlyphs">30 Jan 16:00</text>
<text x="1222.5" y="792" font-size="9.5" fill="#000" stroke="#000" stroke-width="0.25" textLength="52.33" lengthAdjust="spacingAndGlyphs">31 Jan 08:00</text>
<text x="1286.5" y="792" font-size="9.5" fill="#000" stroke="#000" stroke-width="0.25" textLength="48.30" lengthAdjust="spacingAndGlyphs">1 Feb 00:00</text>
<text x="1350.5" y="792" font-size="9.5" fill="#000" stroke="#000" stroke-width="0.25" textLength="48.30" lengthAdjust="spacingAndGlyphs">1 Feb 16:00</text>
<text x="1414.5" y="792" font-size="9.5" fill="#000" stroke="#000" stroke-width="0.25" textLength="48.30" lengthAdjust="spacingAndGlyphs">4 Feb 08:00</text>
<text x="1478.5" y="792" font-size="9.5" fill="#000" stroke="#000" stroke-width="0.25" textLength="48.30" lengthAdjust="spacingAndGlyphs">5 Feb 00:00</text>
<text x="1542.5" y="792" font-size="9.5" fill="#000" stroke="#000" stroke-width="0.25" textLength="48.30" lengthAdjust="spacingAndGlyphs">5 Feb 16:00</text>
<text x="1606.5" y="792" font-size="9.5" fill="#000" stroke="#000" stroke-width="0.25" textLength="48.30" lengthAdjust="spacingAndGlyphs">6 Feb 08:00</text>
<text x="1670.5" y="792" font-size="9.5" fill="#000" stroke="#000" stroke-width="0.25" textLength="48.30" lengthAdjust="spacingAndGlyphs">7 Feb 00:00</text>
<text x="1734.5" y="792" font-size="9.5" fill="#000" stroke="#000" stroke-width="0.25" textLength="48.30" lengthAdjust="spacingAndGlyphs">7 Feb 16:00</text>
<text x="1798.5" y="792" font-size="9.5" fill="#000" stroke="#000" stroke-width="0.25" textLength="48.30" lengthAdjust="spacingAndGlyphs">8 Feb 08:00</text>
<polygon points="10,42 17,42 13.5,38" fill="#000"/>
<text x="21.7" y="43" font-size="9.5" fill="#000" stroke="#000" stroke-width="0.1" textLength="57.40" lengthAdjust="spacingAndGlyphs">XAUUSD-,H4</text>
<text x="85.6" y="43" font-size="9.5" fill="#000" stroke="#000" stroke-width="0.1" textLength="32.20" lengthAdjust="spacingAndGlyphs">1313.62</text>
<text x="121.5" y="43" font-size="9.5" fill="#000" stroke="#000" stroke-width="0.1" textLength="32.20" lengthAdjust="spacingAndGlyphs">1315.54</text>
<text x="157.5" y="43" font-size="9.5" fill="#000" stroke="#000" stroke-width="0.1" textLength="32.20" lengthAdjust="spacingAndGlyphs">1313.35</text>
<text x="193.4" y="43" font-size="9.5" fill="#000" stroke="#000" stroke-width="0.1" textLength="32.20" lengthAdjust="spacingAndGlyphs">1314.97</text>
<text x="11" y="709.3" font-size="9.5" fill="#000" stroke="#000" stroke-width="0.2" textLength="124.00" lengthAdjust="spacingAndGlyphs">MACD(12,26,9) -0.184 -1.180</text>
<g shape-rendering="crispEdges">
<rect x="10" y="51" width="52" height="24" fill="url(#gSellTop)"/>
<rect x="177" y="51" width="52" height="24" fill="url(#gSellTop)"/>
<rect x="10" y="75" width="109" height="40" fill="url(#gBig)"/>
<rect x="121" y="75" width="108" height="40" fill="url(#gBig)"/>
<rect x="14" y="74" width="44" height="1" fill="#0000a8"/>
<rect x="14" y="75" width="44" height="1" fill="#7b7bff"/>
<rect x="181" y="74" width="44" height="1" fill="#0000a8"/>
<rect x="181" y="75" width="44" height="1" fill="#7b7bff"/>
<rect x="10" y="51" width="52" height="1" fill="#0000b4"/>
<rect x="10" y="51" width="1" height="64" fill="#0000b4"/>
<rect x="61" y="51" width="1" height="25" fill="#0000b4"/>
<rect x="61" y="75" width="58" height="1" fill="#0000b4"/>
<rect x="118" y="75" width="1" height="40" fill="#0000b4"/>
<rect x="10" y="114" width="109" height="1" fill="#0000b0"/>
<rect x="177" y="51" width="52" height="1" fill="#0000b4"/>
<rect x="228" y="51" width="1" height="64" fill="#0000b4"/>
<rect x="177" y="51" width="1" height="25" fill="#0000b4"/>
<rect x="121" y="75" width="57" height="1" fill="#0000b4"/>
<rect x="121" y="75" width="1" height="40" fill="#0000b4"/>
<rect x="121" y="114" width="108" height="1" fill="#0000b0"/>
<rect x="62" y="51" width="115" height="24" fill="#ffffff"/>
<rect x="64" y="51" width="111" height="22" fill="#a8a8a8"/>
<rect x="65" y="52" width="109" height="20" fill="#ffffff"/>
<rect x="66" y="53" width="19" height="19" fill="url(#gBtn)"/>
<rect x="85" y="52" width="1" height="20" fill="#b4b4b4"/>
<rect x="153" y="52" width="1" height="20" fill="#b4b4b4"/>
<rect x="155" y="53" width="19" height="19" fill="url(#gBtn)"/>
</g>
<polygon points="71.5,60 77.5,60 74.5,63" fill="#5566aa"/>
<polygon points="160.5,63 166.5,63 163.5,60" fill="#5566aa"/>
<text x="126.8" y="66" font-size="13" fill="#000" textLength="22.70" lengthAdjust="spacingAndGlyphs">1.00</text>
<text x="22" y="66.5" font-size="12.5" fill="#ffffff" textLength="26.00" lengthAdjust="spacingAndGlyphs">SELL</text>
<text x="190.4" y="66.5" font-size="12.5" fill="#ffffff" textLength="23.60" lengthAdjust="spacingAndGlyphs">BUY</text>
<text x="33.3" y="106" font-size="13" fill="#ffffff" textLength="27.30" lengthAdjust="spacingAndGlyphs" font-weight="bold">1314</text>
<text x="64.8" y="106.3" font-size="34" fill="#ffffff" stroke="url(#gBigU)" stroke-width="0.5" textLength="35" lengthAdjust="spacingAndGlyphs">96</text>
<text x="143.4" y="106" font-size="13" fill="#ffffff" textLength="27.30" lengthAdjust="spacingAndGlyphs" font-weight="bold">1315</text>
<text x="176.1" y="106.3" font-size="34" fill="#ffffff" stroke="url(#gBigU)" stroke-width="0.5" textLength="34.2" lengthAdjust="spacingAndGlyphs">35</text>
<g fill="none" stroke="#ff1a00" stroke-width="1.3" stroke-linecap="butt" stroke-linejoin="miter">
<path d="M1475,399.5 L1484,393"/>
<path d="M1482.5,394 L1492,395.5 L1476,404.5"/>
<path d="M1480.5,398 L1483.5,401.5"/>
<path d="M1477,407.5 L1487,402"/>
<path d="M1486,402.5 L1493.5,403 L1475,412.5"/>
<path d="M1482,406.5 L1484.5,409.5"/>
<path d="M1504.8,392 L1506,394.5"/>
<path d="M1496.5,398 L1496.5,395.5 L1514.5,395.5 L1514.5,398"/>
<path d="M1503,397.8 L1496,402.5"/>
<path d="M1507,397.5 L1514.3,402.5"/>
<path d="M1498,404.5 L1512.5,404.5"/>
<path d="M1505,404.5 L1505,410.5"/>
<path d="M1496,410.8 L1515,410.8"/>
<path d="M1516.3,396.3 L1524.8,396.3"/>
<path d="M1520.8,393 L1517,403.5 L1524.8,403.5"/>
<path d="M1521.5,398.5 L1521.5,413"/>
<path d="M1516,408.5 L1524.5,406.3"/>
<path d="M1526,396.3 L1535.7,396.3"/>
<path d="M1525.5,400.5 L1536.5,400.5"/>
<path d="M1530.5,393 L1527.3,404.5 L1535,404.5 L1531,410.5"/>
<path d="M1526.3,408 L1533.5,412.8"/>
<path d="M1537.5,397.5 L1544,397.5"/>
<path d="M1541,393 L1541,410.3 L1538,410.5"/>
<path d="M1537.5,403.5 L1544,401.3"/>
<path d="M1556.5,393.5 L1546,394.8 L1546,403 L1543.5,410.5"/>
<path d="M1546,400.5 L1557.5,400.5"/>
<path d="M1553,400.5 L1553,411"/>
<path d="M1568.2,393 L1568.2,399"/>
<path d="M1568.2,395.5 L1577.3,395.5"/>
<path d="M1561.3,399.3 H1576 V405.5 H1561.3 Z"/>
<path d="M1561.5,407.5 L1559,411.8"/>
<path d="M1565.5,407.5 L1566.5,411.8"/>
<path d="M1570.3,407.5 L1571.3,411.8"/>
<path d="M1574.3,407.5 L1577,411.8"/>
</g>
<text x="1580" y="410" font-size="22" fill="#ff1a00" textLength="46.00" lengthAdjust="spacingAndGlyphs">1300</text>
<g shape-rendering="crispEdges">
<rect x="3" y="8" width="1" height="1" fill="#404040"/>
<rect x="5" y="8" width="1" height="1" fill="#404040"/>
<rect x="7" y="8" width="1" height="1" fill="#404040"/>
<rect x="9" y="8" width="1" height="1" fill="#404040"/>
<rect x="11" y="8" width="1" height="1" fill="#404040"/>
<rect x="13" y="8" width="1" height="1" fill="#404040"/>
<rect x="15" y="8" width="1" height="1" fill="#404040"/>
<rect x="3" y="11" width="1" height="1" fill="#404040"/>
<rect x="5" y="11" width="1" height="1" fill="#404040"/>
<rect x="7" y="11" width="1" height="1" fill="#404040"/>
<rect x="9" y="11" width="1" height="1" fill="#404040"/>
<rect x="11" y="11" width="1" height="1" fill="#404040"/>
<rect x="13" y="11" width="1" height="1" fill="#404040"/>
<rect x="15" y="11" width="1" height="1" fill="#404040"/>
<rect x="3" y="15" width="1" height="1" fill="#404040"/>
<rect x="5" y="15" width="1" height="1" fill="#404040"/>
<rect x="7" y="15" width="1" height="1" fill="#404040"/>
<rect x="9" y="15" width="1" height="1" fill="#404040"/>
<rect x="11" y="15" width="1" height="1" fill="#404040"/>
<rect x="13" y="15" width="1" height="1" fill="#404040"/>
<rect x="15" y="15" width="1" height="1" fill="#404040"/>
<rect x="3" y="19" width="1" height="1" fill="#404040"/>
<rect x="5" y="19" width="1" height="1" fill="#404040"/>
<rect x="7" y="19" width="1" height="1" fill="#404040"/>
<rect x="9" y="19" width="1" height="1" fill="#404040"/>
<rect x="11" y="19" width="1" height="1" fill="#404040"/>
<rect x="13" y="19" width="1" height="5" fill="#404040"/>
<rect x="13" y="19" width="4" height="1" fill="#404040"/>
<rect x="13" y="21" width="3" height="1" fill="#404040"/>
<rect x="14" y="19" width="1" height="5" fill="#505050"/>
<rect x="59" y="8" width="2" height="2" fill="#404040"/>
<rect x="63" y="9" width="1" height="1" fill="#404040"/>
<rect x="65" y="9" width="1" height="1" fill="#404040"/>
<rect x="67" y="9" width="1" height="1" fill="#404040"/>
<rect x="69" y="9" width="1" height="1" fill="#404040"/>
<rect x="71" y="9" width="1" height="1" fill="#404040"/>
<rect x="60" y="11" width="1" height="1" fill="#404040"/>
<rect x="60" y="13" width="1" height="1" fill="#404040"/>
<rect x="60" y="15" width="1" height="1" fill="#404040"/>
<rect x="60" y="17" width="1" height="1" fill="#404040"/>
<rect x="60" y="19" width="1" height="1" fill="#404040"/>
<rect x="71" y="9" width="1" height="1" fill="#404040"/>
<rect x="71" y="11" width="1" height="1" fill="#404040"/>
<rect x="71" y="13" width="1" height="1" fill="#404040"/>
<rect x="71" y="15" width="1" height="1" fill="#404040"/>
<rect x="71" y="17" width="1" height="1" fill="#404040"/>
<rect x="71" y="19" width="1" height="1" fill="#404040"/>
<rect x="60" y="21" width="1" height="1" fill="#404040"/>
<rect x="62" y="21" width="1" height="1" fill="#404040"/>
<rect x="64" y="21" width="1" height="1" fill="#404040"/>
<rect x="66" y="21" width="1" height="1" fill="#404040"/>
<rect x="68" y="21" width="1" height="1" fill="#404040"/>
<rect x="70" y="21" width="1" height="1" fill="#404040"/>
<rect x="62" y="12" width="8" height="1" fill="#505050"/>
<rect x="65" y="12" width="2" height="8" fill="#505050"/>
</g>
<path d="M34.5,20 L37.6,11 L38.6,11 L41.4,20 M35.8,16.5 L40.2,16.5" fill="none" stroke="#454545" stroke-width="1.3"/>
<polygon points="87,12.6 90.5,9 94,12.6 92,12.6 92,14 89,14 89,12.6" fill="#505050"/>
<polygon points="94,18.4 96,18.4 96,17.2 99,17.2 99,18.4 101,18.4 97.5,21.8" fill="#505050"/>
<path d="M89.2,16.2 L91.5,18.6 L95.7,13.4" fill="none" stroke="#333" stroke-width="1.4"/>
<polygon points="108,14 113,14 110.5,16.8" fill="#000"/>
<g shape-rendering="crispEdges">
<rect x="119" y="2" width="1" height="25" fill="#a0a0a0"/>
<rect x="380" y="2" width="1" height="25" fill="#a0a0a0"/>
<rect x="123" y="5" width="3" height="1" fill="#a0a0a0"/>
<rect x="123" y="7" width="3" height="1" fill="#a0a0a0"/>
<rect x="123" y="9" width="3" height="1" fill="#a0a0a0"/>
<rect x="123" y="11" width="3" height="1" fill="#a0a0a0"/>
<rect x="123" y="13" width="3" height="1" fill="#a0a0a0"/>
<rect x="123" y="15" width="3" height="1" fill="#a0a0a0"/>
<rect x="123" y="17" width="3" height="1" fill="#a0a0a0"/>
<rect x="123" y="19" width="3" height="1" fill="#a0a0a0"/>
<rect x="123" y="21" width="3" height="1" fill="#a0a0a0"/>
<rect x="123" y="23" width="3" height="1" fill="#a0a0a0"/>
<rect x="269" y="3" width="25" height="22" fill="url(#chk)"/>
<rect x="269" y="3" width="25" height="1" fill="#a0a0a0"/>
<rect x="269" y="3" width="1" height="22" fill="#a0a0a0"/>
<rect x="293" y="4" width="1" height="21" fill="#ffffff"/>
<rect x="270" y="24" width="24" height="1" fill="#ffffff"/>
</g>
<text x="134.2" y="19" font-size="9.5" fill="#383838" textLength="13.10" lengthAdjust="spacingAndGlyphs">M1</text>
<text x="162.6" y="19" font-size="9.5" fill="#383838" textLength="12.50" lengthAdjust="spacingAndGlyphs">M5</text>
<text x="188.5" y="19" font-size="9.5" fill="#383838" textLength="17.50" lengthAdjust="spacingAndGlyphs">M15</text>
<text x="216.6" y="19" font-size="9.5" fill="#383838" textLength="17.70" lengthAdjust="spacingAndGlyphs">M30</text>
<text x="247.3" y="19" font-size="9.5" fill="#383838" textLength="12.00" lengthAdjust="spacingAndGlyphs">H1</text>
<text x="274" y="19" font-size="9.5" fill="#383838" textLength="12.90" lengthAdjust="spacingAndGlyphs">H4</text>
<text x="303.6" y="19" font-size="9.5" fill="#383838" textLength="11.70" lengthAdjust="spacingAndGlyphs">D1</text>
<text x="330.9" y="19" font-size="9.5" fill="#383838" textLength="14.40" lengthAdjust="spacingAndGlyphs">W1</text>
<text x="357.4" y="19" font-size="9.5" fill="#383838" textLength="15.00" lengthAdjust="spacingAndGlyphs">MN</text>
</svg>
</body></html>
